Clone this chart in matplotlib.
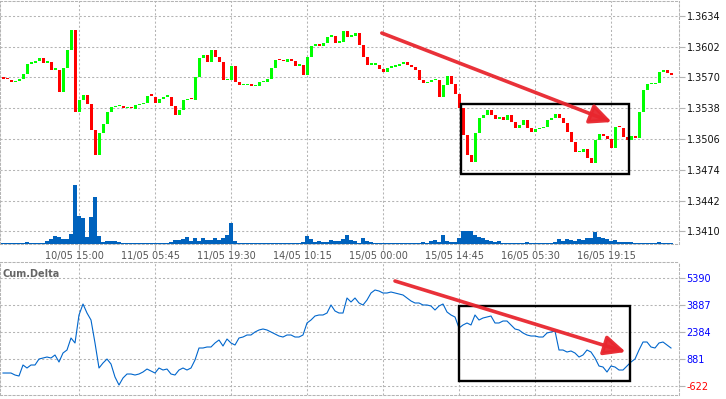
import matplotlib.pyplot as plt
import numpy as np
from matplotlib.patches import Rectangle
from matplotlib.transforms import ScaledTranslation

# close price of each bar (open = previous close)
first_open = 1.3570
close = [1.3568, 1.3567, 1.3565, 1.3566, 1.3568, 1.3573, 1.3584, 1.3585, 1.3587, 1.3590,
         1.3585, 1.3586, 1.3578, 1.3578, 1.3555, 1.3580, 1.3598, 1.3619, 1.3534, 1.3546,
         1.3552, 1.3542, 1.3515, 1.3489, 1.3512, 1.3521, 1.3534, 1.3539, 1.3540, 1.3540,
         1.3538, 1.3538, 1.3537, 1.3541, 1.3542, 1.3543, 1.3551, 1.3550, 1.3543, 1.3547,
         1.3550, 1.3550, 1.3540, 1.3531, 1.3536, 1.3546, 1.3547, 1.3546, 1.3570, 1.3590,
         1.3593, 1.3586, 1.3598, 1.3591, 1.3586, 1.3567, 1.3567, 1.3582, 1.3565, 1.3562,
         1.3562, 1.3563, 1.3561, 1.3561, 1.3565, 1.3565, 1.3568, 1.3580, 1.3588, 1.3587,
         1.3586, 1.3589, 1.3587, 1.3582, 1.3583, 1.3572, 1.3591, 1.3603, 1.3605, 1.3603,
         1.3606, 1.3612, 1.3613, 1.3606, 1.3607, 1.3618, 1.3612, 1.3613, 1.3616, 1.3604,
         1.3591, 1.3583, 1.3583, 1.3583, 1.3579, 1.3576, 1.3580, 1.3581, 1.3582, 1.3584,
         1.3586, 1.3583, 1.3581, 1.3578, 1.3567, 1.3564, 1.3565, 1.3567, 1.3567, 1.3550,
         1.3562, 1.3571, 1.3563, 1.3553, 1.3538, 1.3510, 1.3489, 1.3482, 1.3512, 1.3528,
         1.3531, 1.3536, 1.3531, 1.3527, 1.3529, 1.3526, 1.3531, 1.3524, 1.3517, 1.3520,
         1.3526, 1.3517, 1.3513, 1.3516, 1.3517, 1.3518, 1.3526, 1.3528, 1.3532, 1.3528,
         1.3523, 1.3513, 1.3503, 1.3492, 1.3492, 1.3495, 1.3486, 1.3481, 1.3505, 1.3511,
         1.3509, 1.3506, 1.3497, 1.3518, 1.3517, 1.3508, 1.3505, 1.3509, 1.3507, 1.3534,
         1.3557, 1.3563, 1.3563, 1.3564, 1.3576, 1.3578, 1.3574, 1.3572]

volume = [1, 1, 1, 1, 1, 1, 2, 1, 1, 1,
          1, 3, 5, 8, 7, 5, 5, 10, 59, 28,
          26, 7, 27, 47, 8, 2, 3, 3, 3, 2,
          1.5, 1, 1, 1, 1, 1, 1, 1, 1.5, 1,
          1, 1, 2.5, 4, 4, 5, 7, 3, 6, 3,
          6, 4, 4, 6, 4, 6, 9, 21, 3, 1.5,
          1.5, 1, 1, 1, 1, 1, 1, 1, 1, 1,
          1, 1, 1, 1, 1.5, 2.5, 8, 5, 2, 3,
          2, 2, 4, 3, 3, 5, 9, 4, 3, 1.5,
          6, 3, 2, 1, 1, 1, 1, 1, 1, 1,
          1, 1, 1, 1, 1, 2, 1, 3, 4, 2,
          9, 3, 2, 2, 6, 13, 13, 13, 9, 7,
          6, 4, 3, 2, 3, 1.5, 1, 1, 1, 1,
          1, 2, 1, 1, 1, 1, 1, 1, 2, 5,
          3, 5, 4, 3, 5, 4, 6, 6, 12, 7,
          6, 5, 3, 4, 2, 2, 2, 2, 1, 1,
          1, 1, 1, 1, 2, 1, 1, 1]

cum_delta = [100, 100, 100, -11, -66, 545, 378, 545, 545, 877,
             933, 988, 933, 1100, 711, 1210, 1377, 2043, 1766, 3320,
             3930, 3430, 3042, 1766, 378, 655, 877, 600, -122, -566,
             -177, 45, 45, -11, 45, 156, 322, 211, 100, 378,
             267, 322, 45, -11, 267, 378, 267, 378, 822, 1488,
             1488, 1544, 1544, 1766, 1932, 1599, 1987, 1766, 1654, 2043,
             2098, 2210, 2210, 2376, 2487, 2543, 2487, 2376, 2265, 2154,
             2098, 2210, 2210, 2098, 2098, 2210, 2876, 3042, 3264, 3320,
             3320, 3430, 3875, 3542, 3430, 3430, 4263, 4041, 4263, 3986,
             3875, 4152, 4540, 4707, 4651, 4540, 4540, 4596, 4540, 4485,
             4430, 4263, 4097, 3986, 3986, 3875, 3875, 3819, 3597, 3819,
             3930, 3486, 3320, 3208, 2598, 2765, 2876, 2765, 3320, 3042,
             3153, 3208, 3264, 2876, 2876, 2986, 2986, 2765, 2543, 2487,
             2321, 2210, 2154, 2154, 2098, 2098, 2321, 2376, 2431, 1377,
             1377, 1266, 1322, 1210, 988, 1100, 1377, 1266, 933, 489,
             433, 156, 489, 433, 267, 267, 489, 711, 877, 1377,
             1821, 1821, 1544, 1488, 1766, 1821, 1654, 1488]

time_pos = [19, 38, 57, 76, 95, 114, 133, 152]
time_labels = ['10/05 15:00', '11/05 05:45', '11/05 19:30', '14/05 10:15',
               '15/05 00:00', '15/05 14:45', '16/05 05:30', '16/05 19:15']
price_ticks = [1.3634, 1.3602, 1.3570, 1.3538, 1.3506, 1.3474, 1.3442, 1.3410]
delta_ticks = [5390, 3887, 2384, 881, -622]

close = np.array(close)
opens = np.concatenate([[first_open], close[:-1]])
idx = np.arange(len(close))
diff = close - opens
body = np.where(np.abs(diff) < 0.00015, 0.00015, diff)  # flat bars still show as a small dash
colors = np.where(diff >= 0, '#00ff00', '#ff0000')

grid_c = '#b4b4b4'
dash = (0, (2, 2))
plt.rcParams['font.family'] = 'DejaVu Sans'

fig = plt.figure(figsize=(7.26, 3.99), dpi=100)
ax = fig.add_axes([0, 1 - 244 / 399, 679 / 726, 243 / 399])
axd = fig.add_axes([0, 1 - 395 / 399, 679 / 726, 133 / 399], sharex=ax)

# price candles
ax.bar(idx, body, bottom=opens, width=0.75, color=colors, linewidth=0, zorder=3)
ax.set_ylim(1.33968, 1.36493)
ax.set_xlim(-0.75, 169)
ax.set_yticks(price_ticks, [f'{p:.4f}' for p in price_ticks])
ax.set_xticks(time_pos, time_labels)
ax.grid(True, color=grid_c, linestyle=dash, linewidth=0.75)
ax.set_axisbelow(True)

# volume on its own scale at the bottom of the price panel
axv = ax.twinx()
axv.bar(idx, volume, width=1.0, color='#0062bd', linewidth=0)
axv.set_ylim(0, 243)
axv.set_yticks([])
for s in axv.spines.values():
    s.set_visible(False)

ax.yaxis.tick_right()
ax.tick_params(axis='y', length=4, color=grid_c, labelsize=7, labelcolor='#111111', pad=1.5)
ax.tick_params(axis='x', length=4, color=grid_c, labelsize=7, labelcolor='#555555', pad=1)
for lab in ax.get_xticklabels():
    lab.set_transform(lab.get_transform() + ScaledTranslation(-3 / 72, 0, fig.dpi_scale_trans))

# cumulative delta panel
axd.plot(idx, cum_delta, color='#0066cc', linewidth=0.8)
axd.set_ylim(-1120, 6261)
axd.set_yticks(delta_ticks, [str(v) for v in delta_ticks])
axd.yaxis.tick_right()
axd.grid(True, color=grid_c, linestyle=dash, linewidth=0.75)
axd.set_axisbelow(True)
axd.tick_params(axis='y', length=4, color=grid_c, labelsize=7, pad=1.5)
axd.tick_params(axis='x', length=0, labelbottom=False)
for lab in axd.get_yticklabels():
    lab.set_color('#ff0000' if lab.get_text().startswith('-') else '#0000ff')
axd.text(0.004, 0.91, 'Cum.Delta', transform=axd.transAxes, fontsize=7,
         fontweight='bold', color='#666666', va='center', ha='left')

for a in (ax, axd):
    for s in a.spines.values():
        s.set_color(grid_c)
        s.set_linestyle(dash)
        s.set_linewidth(0.75)

# annotations: trend arrows and boxes
arrow = dict(arrowstyle='-|>,head_length=1.3,head_width=0.6', color='#e8262e',
             lw=2.6, shrinkA=0, shrinkB=0, alpha=0.95)
ax.annotate('', xy=(152.2, 1.35235), xytext=(94.7, 1.36160), arrowprops=arrow, zorder=6)
ax.add_patch(Rectangle((114.4, 1.34692), 42.1, 0.0073, fill=False, ec='black', lw=1.7, zorder=5))
axd.annotate('', xy=(155.7, 1266), xytext=(98, 5206), arrowprops=arrow, zorder=6)
axd.add_patch(Rectangle((114, -327), 42.75, 4163, fill=False, ec='black', lw=1.7, zorder=5))

fig.savefig('out.png', dpi=100)
